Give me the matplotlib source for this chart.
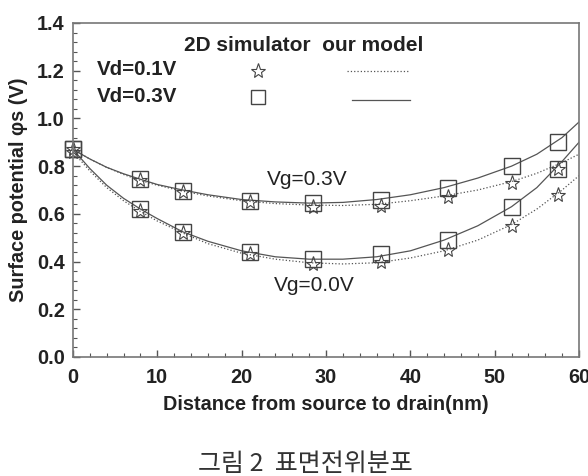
import matplotlib
matplotlib.use("Agg")
import matplotlib.pyplot as plt
from matplotlib.ticker import MultipleLocator

plt.rcParams['font.family'] = ['Liberation Sans', 'DejaVu Sans']

# Simulator points (x in nm)
x_pts = [0, 8, 13, 21, 28.5, 36.5, 44.5, 52, 57.5]
sim_vg03_vd01 = [0.87, 0.74, 0.69, 0.65, 0.63, 0.635, 0.67, 0.73, 0.79]
sim_vg03_vd03 = [0.87, 0.745, 0.695, 0.655, 0.645, 0.66, 0.71, 0.80, 0.90]
sim_vg00_vd01 = [0.86, 0.61, 0.52, 0.43, 0.39, 0.40, 0.45, 0.55, 0.68]
sim_vg00_vd03 = [0.87, 0.62, 0.525, 0.44, 0.41, 0.43, 0.49, 0.63, 0.79]

# Model curves
x_model = [0, 2, 4, 6, 8, 10, 13, 16, 20, 24, 28, 32, 36, 40, 44, 48, 52, 55, 58, 60]
mod_vg03_vd03 = [0.87, 0.83, 0.795, 0.768, 0.745, 0.723, 0.70, 0.68, 0.66, 0.65, 0.645,
                 0.648, 0.66, 0.68, 0.71, 0.75, 0.80, 0.85, 0.92, 0.985]
mod_vg03_vd01 = [0.87, 0.83, 0.795, 0.765, 0.74, 0.72, 0.695, 0.675, 0.655, 0.643, 0.637,
                 0.635, 0.64, 0.655, 0.675, 0.70, 0.735, 0.77, 0.815, 0.85]
mod_vg00_vd03 = [0.87, 0.79, 0.72, 0.665, 0.62, 0.58, 0.525, 0.485, 0.445, 0.42, 0.41,
                 0.41, 0.42, 0.445, 0.49, 0.55, 0.63, 0.71, 0.82, 0.90]
mod_vg00_vd01 = [0.86, 0.78, 0.71, 0.655, 0.61, 0.57, 0.52, 0.475, 0.435, 0.41, 0.395,
                 0.39, 0.395, 0.415, 0.445, 0.49, 0.555, 0.62, 0.70, 0.76]

fig = plt.figure(figsize=(5.88, 4.76), dpi=100)
ax = fig.add_axes([0.1241, 0.25, 0.8606, 0.7017])

lc = '#555555'
ax.plot(x_model, mod_vg03_vd03, '-', color=lc, lw=0.9)
ax.plot(x_model, mod_vg00_vd03, '-', color=lc, lw=0.9)
ax.plot(x_model, mod_vg03_vd01, ':', color=lc, lw=0.9)
ax.plot(x_model, mod_vg00_vd01, ':', color=lc, lw=0.9)

mc = '#444444'
for ys in (sim_vg03_vd03, sim_vg00_vd03):
    ax.plot(x_pts, ys, 's', ms=11, mfc='none', mec=mc, mew=1.0, clip_on=False)
for ys in (sim_vg03_vd01, sim_vg00_vd01):
    ax.plot(x_pts, ys, '*', ms=11, mfc='none', mec=mc, mew=0.8, clip_on=False)

ax.set_xlim(0, 60)
ax.set_ylim(0, 1.4)
ax.xaxis.set_major_locator(MultipleLocator(10))
ax.xaxis.set_minor_locator(MultipleLocator(2))
ax.yaxis.set_minor_locator(MultipleLocator(0.04))
ax.set_yticks([0, 0.2, 0.4, 0.6, 0.8, 1.0, 1.2, 1.4])
ax.set_yticklabels(['0.0', '0.2', '0.4', '0.6', '0.8', '1.0', '1.2', '1.4'])
ax.tick_params(which='both', direction='in', top=False, right=False, color='#555555')
ax.tick_params(which='major', length=5, width=1, labelsize=14.3)
ax.tick_params(axis='x', which='major', pad=8)
ax.tick_params(axis='y', which='major', pad=6)
ax.tick_params(which='minor', length=3, width=0.8)
for lab in ax.get_xticklabels() + ax.get_yticklabels():
    lab.set_fontweight('bold')
    lab.set_color('#222222')
for sp in ax.spines.values():
    sp.set_color('#777777')
    sp.set_linewidth(1.2)

ax.set_xlabel('Distance from source to drain(nm)', fontsize=14.3, fontweight='bold', color='#222222', labelpad=6)
ax.set_ylabel('Surface potential φs (V)', fontsize=14.3, fontweight='bold', color='#222222', labelpad=6)

# Legend-like annotations
tc = '#222222'
ax.text(27.4, 1.307, '2D simulator  our model', fontsize=15, fontweight='bold', color=tc, ha='center', va='center')
ax.text(2.85, 1.203, 'Vd=0.1V', fontsize=14.8, fontweight='bold', color=tc, va='center')
ax.text(2.85, 1.09, 'Vd=0.3V', fontsize=14.8, fontweight='bold', color=tc, va='center')
ax.plot([21.9], [1.2], '*', ms=11, mfc='none', mec=mc, mew=0.8)
ax.plot([21.9], [1.09], 's', ms=10, mfc='none', mec=mc, mew=1.0)
ax.plot([32.5, 39.7], [1.2, 1.2], ':', color=lc, lw=0.9)
ax.plot([33.1, 40.0], [1.077, 1.077], '-', color=lc, lw=0.9)

ax.text(27.8, 0.742, 'Vg=0.3V', fontsize=15, color=tc, ha='center', va='center')
ax.text(28.6, 0.298, 'Vg=0.0V', fontsize=15, color=tc, ha='center', va='center')

fig.text(0.52, 0.026, '그림 2  표면전위분포', fontsize=18, color='#333333', ha='center', va='center',
         family=['Noto Sans CJK KR', 'DejaVu Sans'])

fig.savefig('out.png', dpi=100)
